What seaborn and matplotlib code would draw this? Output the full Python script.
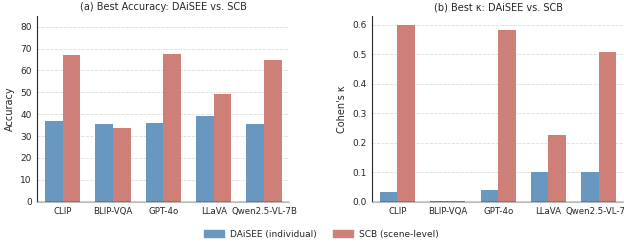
import matplotlib
matplotlib.use("Agg")
import matplotlib.pyplot as plt
import seaborn as sns
import pandas as pd

models = ["CLIP", "BLIP-VQA", "GPT-4o", "LLaVA", "Qwen2.5-VL-7B"]
acc_daisee = [36.8, 35.5, 35.9, 39.2, 35.5]
acc_scb = [67.3, 33.6, 67.7, 49.4, 65.0]
kappa_daisee = [0.034, 0.002, 0.038, 0.100, 0.100]
kappa_scb = [0.600, 0.002, 0.582, 0.225, 0.507]
series = ["DAiSEE (individual)", "SCB (scene-level)"]
colors = ["#6897bf", "#cd7f78"]

sns.set_style("white")
plt.rcParams['font.family'] = ['DejaVu Sans']

def frame(a, b):
    return pd.DataFrame({
        "model": models * 2,
        "value": a + b,
        "dataset": [series[0]] * len(models) + [series[1]] * len(models),
    })

fig, axes = plt.subplots(1, 2, figsize=(6.24, 2.43), dpi=100)
specs = [
    (axes[0], frame(acc_daisee, acc_scb), "Accuracy", "(a) Best Accuracy: DAiSEE vs. SCB", (0, 85), [0, 10, 20, 30, 40, 50, 60, 70, 80]),
    (axes[1], frame(kappa_daisee, kappa_scb), "Cohen's κ", "(b) Best κ: DAiSEE vs. SCB", (0, 0.63), [0.0, 0.1, 0.2, 0.3, 0.4, 0.5, 0.6]),
]
for ax, df, ylab, title, ylim, yt in specs:
    sns.barplot(data=df, x="model", y="value", hue="dataset", palette=colors,
                ax=ax, width=0.7, saturation=1, legend=False, linewidth=0)
    ax.set_ylim(*ylim)
    ax.set_yticks(yt)
    ax.set_xlabel("")
    ax.set_ylabel(ylab, fontsize=7)
    ax.set_title(title, fontsize=7, pad=4)
    ax.tick_params(axis="y", labelsize=6.5, length=2, width=0.6, pad=2)
    ax.tick_params(axis="x", labelsize=6.2, length=2, width=0.6, pad=2)
    ax.yaxis.grid(True, linestyle="--", color="#dddddd", linewidth=0.6)
    ax.set_axisbelow(True)
    sns.despine(ax=ax)
    ax.spines["left"].set_linewidth(0.8)
    ax.spines["bottom"].set_color("#bbbbbb")
    ax.axhline(0, color="black", linewidth=1.0)

handles = [plt.Rectangle((0, 0), 1, 1, color=c) for c in colors]
fig.legend(handles, series, loc="lower center", ncol=2, frameon=False,
           fontsize=6.5, bbox_to_anchor=(0.515, -0.015), handlelength=2.2,
           handletextpad=0.7, columnspacing=1.8)
fig.subplots_adjust(left=0.06, right=1.0, top=0.935, bottom=0.17, wspace=0.33)
fig.savefig("out.png", dpi=100)
